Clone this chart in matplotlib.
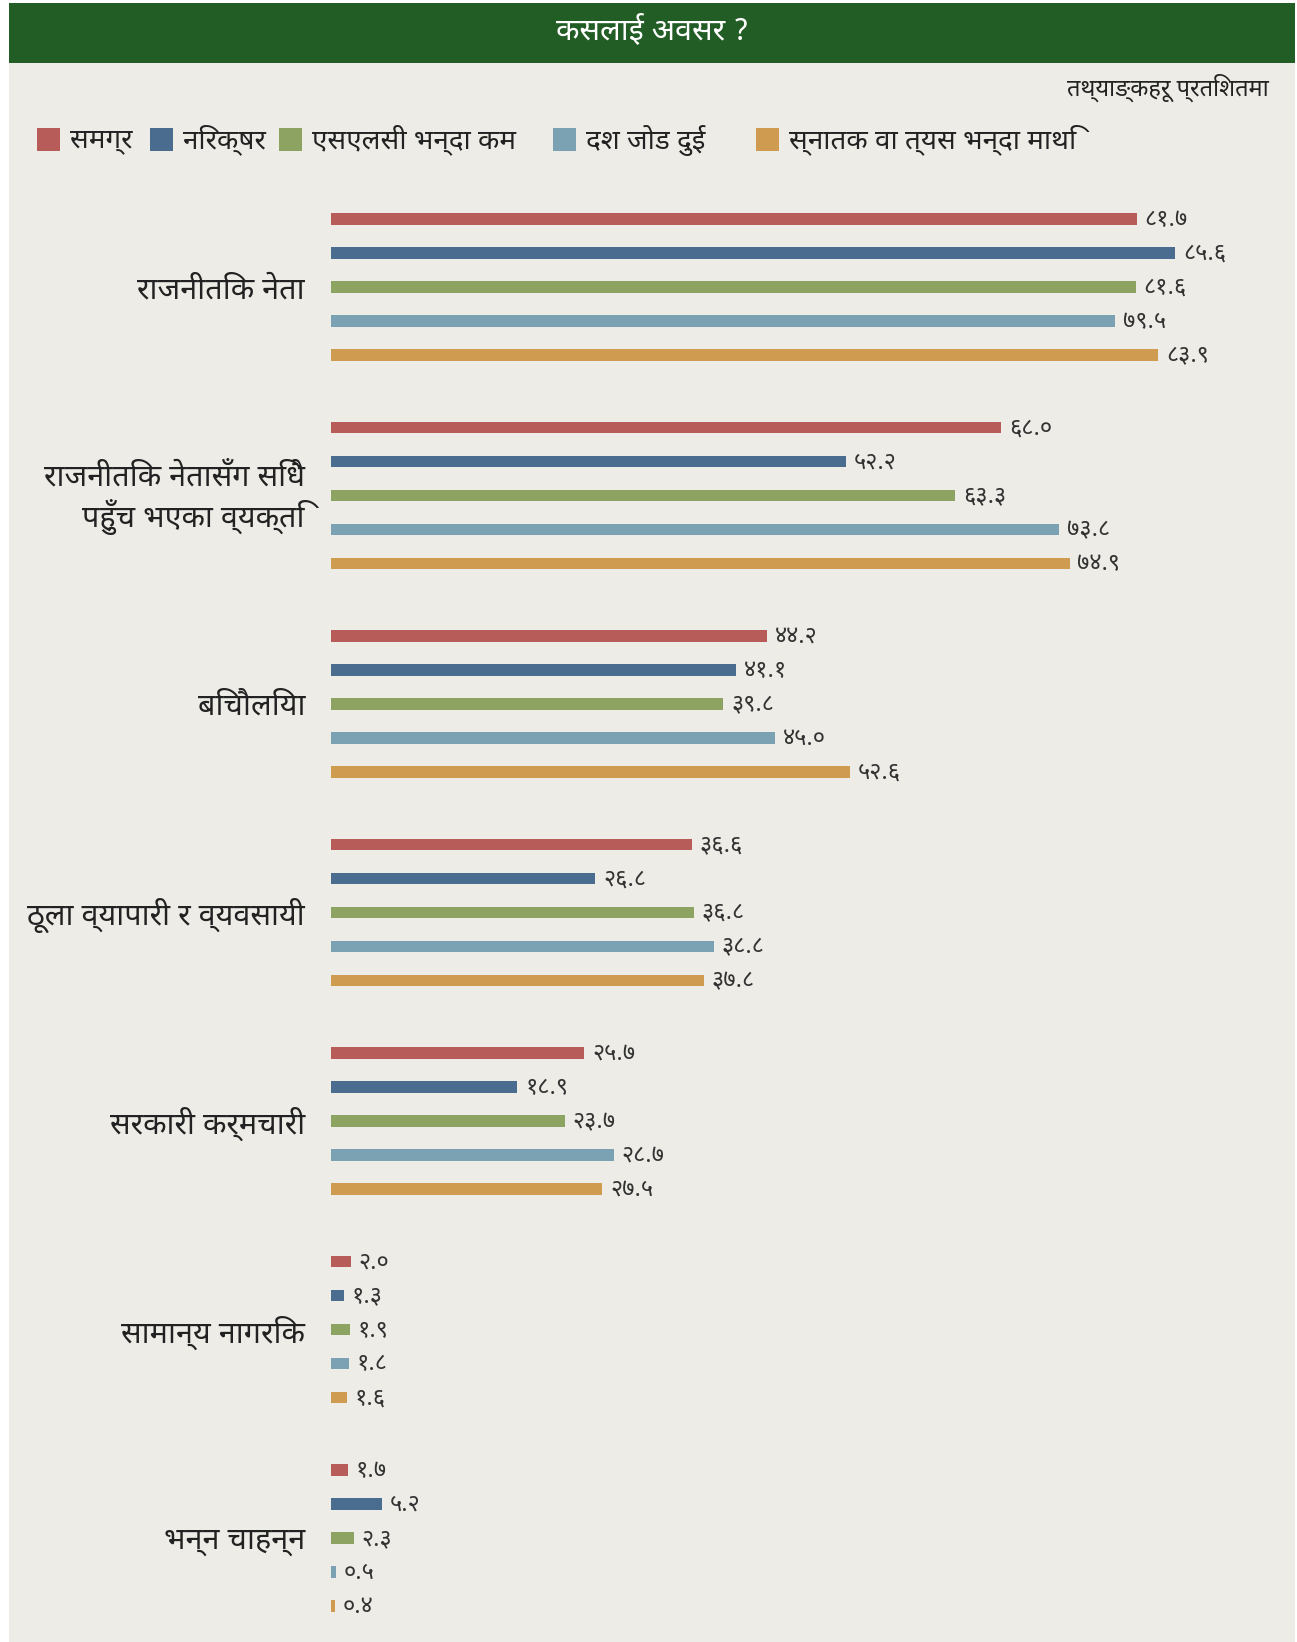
import matplotlib
matplotlib.use('Agg')
import matplotlib.pyplot as plt
from matplotlib import font_manager
from matplotlib.ft2font import FT2Font
from matplotlib.patches import Rectangle
import matplotlib.transforms as mtransforms


def has_deva(path):
    try:
        cm = FT2Font(path).get_charmap()
        return 0x0915 in cm and 0x0966 in cm
    except Exception:
        return False


# pick an installed font with Devanagari glyphs
deva_fams = []
for f in font_manager.fontManager.ttflist:
    if f.name not in deva_fams and has_deva(f.fname):
        deva_fams.append(f.name)
prefer = ['Noto Sans Devanagari', 'Mukta', 'Hind', 'Anek Devanagari', 'FreeSans']
chosen = [p for p in prefer if p in deva_fams][:1] or deva_fams[:1]
plt.rcParams['font.family'] = chosen + ['DejaVu Sans']

# data
categories = ['राजनीतिक नेता', 'राजनीतिक नेतासँग सिधै\nपहुँच भएका व्यक्ति', 'बिचौलिया',
              'ठूला व्यापारी र व्यवसायी', 'सरकारी कर्मचारी', 'सामान्य नागरिक', 'भन्न चाहन्न']
series = ['समग्र', 'निरक्षर', 'एसएलसी भन्दा कम', 'दश जोड दुई', 'स्नातक वा त्यस भन्दा माथि']
overall = [81.7, 68.0, 44.2, 36.6, 25.7, 2.0, 1.7]
illiterate = [85.6, 52.2, 41.1, 26.8, 18.9, 1.3, 5.2]
below_slc = [81.6, 63.3, 39.8, 36.8, 23.7, 1.9, 2.3]
plus_two = [79.5, 73.8, 45.0, 38.8, 28.7, 1.8, 0.5]
graduate = [83.9, 74.9, 52.6, 37.8, 27.5, 1.6, 0.4]
values = [overall, illiterate, below_slc, plus_two, graduate]
colors = ['#B85C5A', '#4A6C8E', '#8CA362', '#7AA2B3', '#CF9B51']

DEV = str.maketrans('0123456789', '०१२३४५६७८९')

W, H = 1297, 1642
fig = plt.figure(figsize=(W / 100, H / 100), dpi=100)
fig.patch.set_facecolor('white')

# panel + header
fig.patches.append(Rectangle((9 / W, 0), (W - 11) / W, (H - 3) / H, transform=fig.transFigure,
                             facecolor='#EDECE7', edgecolor='none', zorder=-3))
fig.patches.append(Rectangle((9 / W, (H - 63) / H), (W - 11) / W, 60 / H, transform=fig.transFigure,
                             facecolor='#225D26', edgecolor='none', zorder=-2))
fig.text(652 / W, 1 - 30 / H, 'कसलाई अवसर ?', color='white', fontsize=22, fontweight='medium',
         ha='center', va='center')
fig.text(1269 / W, 1 - 88 / H, 'तथ्याङ्कहरू प्रतिशतमा', color='#222222', fontsize=17,
         style='italic', ha='right', va='center')

# legend
sq_x = [37, 150, 279, 553, 756]
for i, name in enumerate(series):
    fig.patches.append(Rectangle((sq_x[i] / W, 1 - 151 / H), 23 / W, 23 / H, transform=fig.transFigure,
                                 facecolor=colors[i], edgecolor='none', zorder=-1))
    fig.text((sq_x[i] + 33) / W, 1 - 140 / H, name, color='#222222', fontsize=20,
             fontweight='medium', ha='left', va='center')

# bars
px_per_unit = 9.86
left_px = 331
xmax = 90
ax = fig.add_axes([left_px / W, 0, xmax * px_per_unit / W, 1])
ax.set_xlim(0, xmax)
ax.set_ylim(H, 0)
ax.axis('off')

group_top = 219
group_step = 208.5
bar_step = 34.0
bar_h = 11.7
tr = mtransforms.blended_transform_factory(fig.transFigure, ax.transData)
for g, cat in enumerate(categories):
    for j in range(len(series)):
        y = group_top + g * group_step + j * bar_step
        v = values[j][g]
        ax.barh(y, v, height=bar_h, color=colors[j], left=0)
        ax.text(v + 0.8, y + 1, f'{v:.1f}'.translate(DEV), fontsize=17, color='#333333',
                ha='left', va='center')
    yc = group_top + g * group_step + 2 * bar_step + 3
    ax.text(305 / W, yc, cat, transform=tr, fontsize=22, fontweight='medium', color='#222222',
            ha='right', va='center', linespacing=1.25, clip_on=False)

fig.savefig('out.png', dpi=100, facecolor=fig.get_facecolor())
